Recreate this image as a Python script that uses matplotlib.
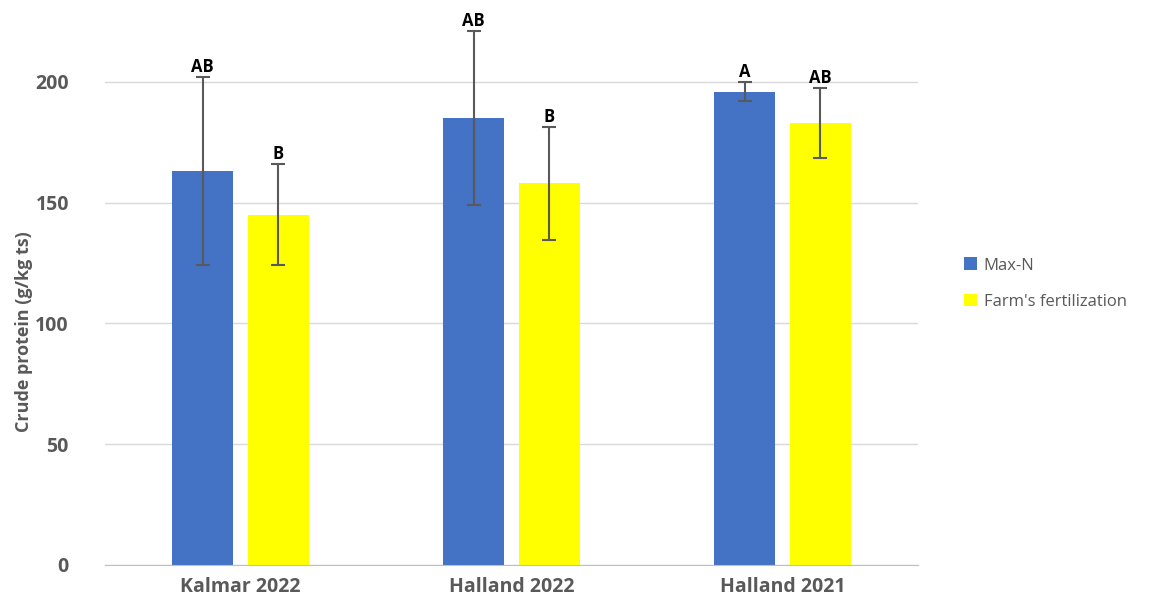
import numpy as np
import matplotlib.pyplot as plt

plt.rcParams['font.family'] = ['Open Sans', 'DejaVu Sans']

sites = ["Kalmar 2022", "Halland 2022", "Halland 2021"]
max_n = [163, 185, 196]
max_n_err = [39, 36, 4]
farm = [145, 158, 183]
farm_err = [21, 23.5, 14.5]
max_n_letters = ["AB", "AB", "A"]
farm_letters = ["B", "B", "AB"]

grey = '#595959'
x = np.arange(len(sites))
w = 0.225
off = 0.14

fig = plt.figure(figsize=(11.64, 6.06), dpi=100)
ax = fig.add_axes([0.0902, 0.0677, 0.6985, 0.9167])

b1 = ax.bar(x - off, max_n, w, color='#4472C4', label='Max-N', zorder=2)
b2 = ax.bar(x + off, farm, w, color='#FFFF00', label="Farm's fertilization", zorder=2)
ax.errorbar(x - off, max_n, yerr=max_n_err, fmt='none', ecolor=grey, elinewidth=1.5,
            capsize=5, capthick=1.5, zorder=3)
ax.errorbar(x + off, farm, yerr=farm_err, fmt='none', ecolor=grey, elinewidth=1.5,
            capsize=5, capthick=1.5, zorder=3)

for xi, v, e, t in zip(x - off, max_n, max_n_err, max_n_letters):
    ax.text(xi, v + e + 0.3, t, ha='center', va='bottom', fontsize=12, fontweight='bold', zorder=4)
for xi, v, e, t in zip(x + off, farm, farm_err, farm_letters):
    ax.text(xi, v + e + 0.3, t, ha='center', va='bottom', fontsize=12, fontweight='bold', zorder=4)

ax.set_xlim(-0.5, 2.5)
ax.set_ylim(0, 230)
ax.set_yticks([0, 50, 100, 150, 200])
ax.set_xticks(x)
ax.set_xticklabels(sites, fontsize=14, fontweight='bold', color=grey)
ax.tick_params(axis='y', labelsize=14, colors=grey, length=0, pad=26)
ax.tick_params(axis='x', length=0, pad=9)
for lbl in ax.get_yticklabels():
    lbl.set_fontweight('bold')
ax.grid(axis='y', color='#d9d9d9', linewidth=1, zorder=0)
for s in ['top', 'right', 'left']:
    ax.spines[s].set_visible(False)
ax.spines['bottom'].set_color('#bfbfbf')
ax.set_ylabel('Crude protein (g/kg ts)', fontsize=13, fontweight='bold', color=grey)
ax.yaxis.set_label_coords(-0.088, 0.42)

fig.legend(handles=[b1, b2], loc='upper left', bbox_to_anchor=(0.815, 0.6), frameon=False,
           fontsize=12, labelcolor=grey, handlelength=0.8, handleheight=0.8,
           handletextpad=0.4, labelspacing=1.2)

fig.savefig('out.png', dpi=100)
